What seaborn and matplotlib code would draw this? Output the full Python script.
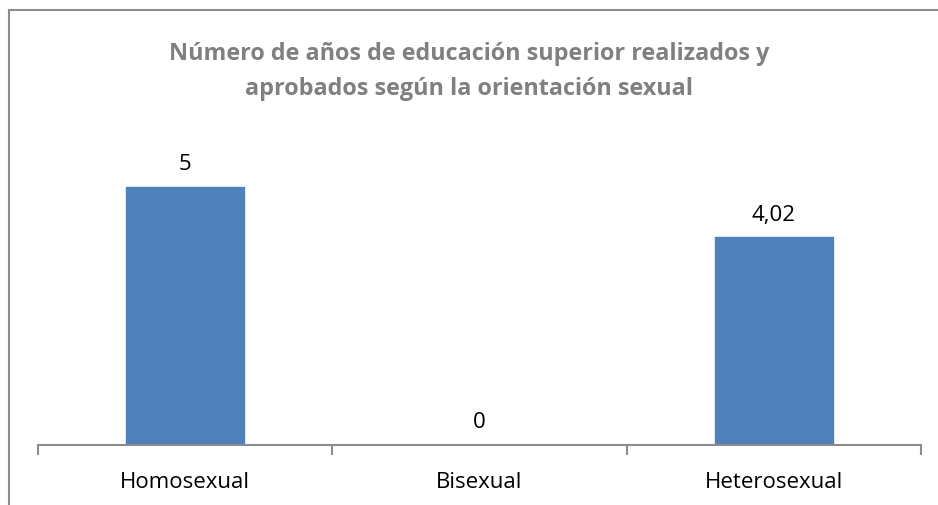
import matplotlib.pyplot as plt
import matplotlib.patches as mpatches
import pandas as pd
import seaborn as sns

# chart data
categories = ['Homosexual', 'Bisexual', 'Heterosexual']
years = [5, 0, 4.02]
title = 'Número de años de educación superior realizados y\naprobados según la orientación sexual'

df = pd.DataFrame({'Orientacion': categories, 'Anios': years})

sns.set_style("white")
plt.rcParams['font.family'] = ['Open Sans', 'DejaVu Sans']

W, H = 938, 506
fig = plt.figure(figsize=(W / 100, H / 100), dpi=100)
ax = fig.add_axes([38 / W, (H - 446) / H, (921 - 38) / W, (446 - 136) / H])

sns.barplot(x='Orientacion', y='Anios', data=df, color='#4F81BD', width=0.4,
            saturation=1, ax=ax, edgecolor='#4F81BD')

ax.set_ylim(0, 6)
ax.set_xlim(-0.5, 2.5)
ax.set_xlabel('')
ax.set_ylabel('')
ax.set_yticks([])

for side in ['left', 'right', 'top']:
    ax.spines[side].set_visible(False)
ax.spines['bottom'].set_color('#8C8C8C')
ax.spines['bottom'].set_linewidth(1.5)

# category labels, separators as minor ticks
ax.tick_params(axis='x', which='major', bottom=False, length=0, pad=18.5, labelsize=16, labelcolor='black')
ax.set_xticks([-0.5, 0.5, 1.5, 2.5], minor=True)
ax.tick_params(axis='x', which='minor', bottom=True, length=7, width=1.5, color='#8C8C8C', direction='out')

ax.bar_label(ax.containers[0], labels=[f'{v:g}'.replace('.', ',') for v in years],
             padding=9, fontsize=16, color='black')

fig.suptitle(title, y=1 - 42 / H, va='top', fontsize=16.8, fontweight='bold',
             color='#808080', linespacing=1.6)

# chart area border (left and top visible)
fig.patches.append(mpatches.Rectangle((9, -20), W + 40, H - 11 + 20, transform=None,
                                      fill=False, edgecolor='#8C8C8C', linewidth=1.5))

plt.savefig('out.png', dpi=100)
